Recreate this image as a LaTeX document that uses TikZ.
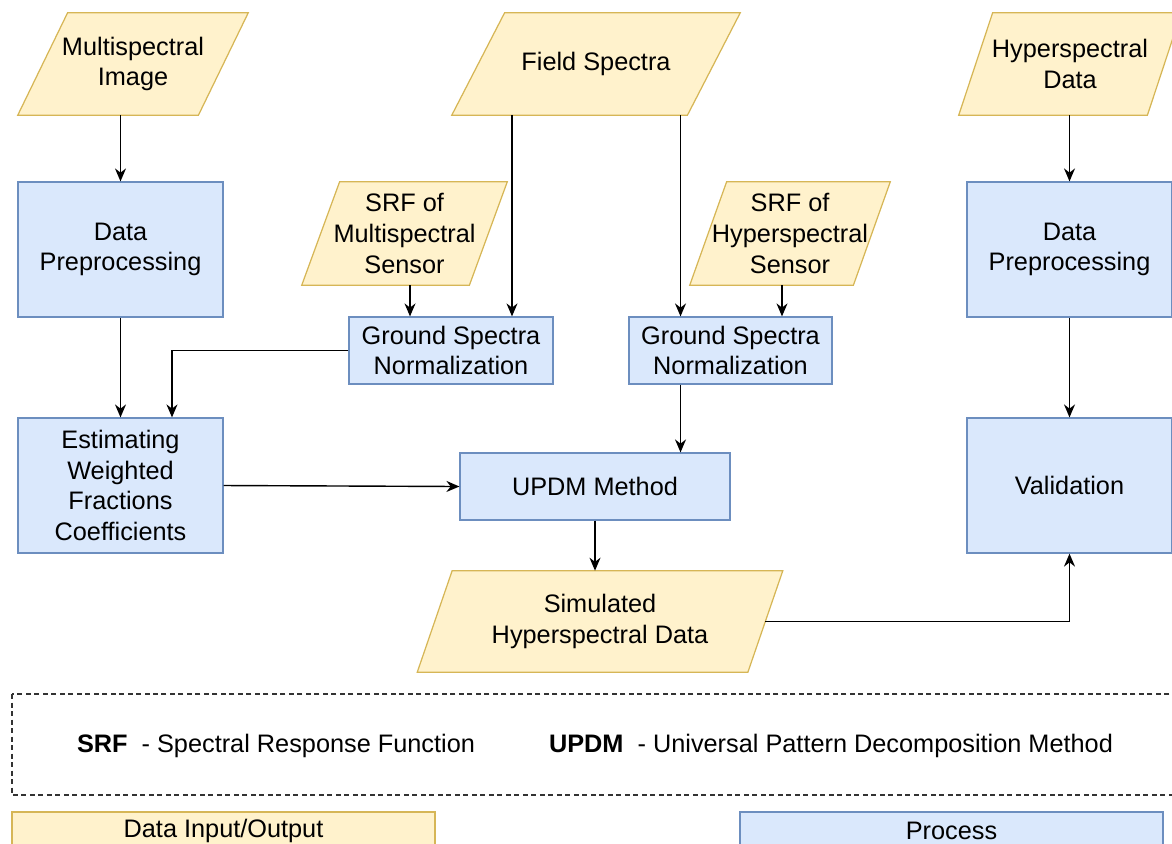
\documentclass[tikz,border=0pt]{standalone}
\usepackage{fontspec}
\setmainfont{Liberation Sans}
\usetikzlibrary{arrows.meta,backgrounds}
\definecolor{iofill}{HTML}{FFF2CC}
\definecolor{ioline}{HTML}{D6B656}
\definecolor{procfill}{HTML}{DAE8FC}
\definecolor{procline}{HTML}{6C8EBF}

\begin{document}
\begin{tikzpicture}[x=0.02cm, y=-0.02cm,
    font=\fontsize{14.4}{17.5}\selectfont,
    proc/.style={draw=procline, fill=procfill, line width=0.7pt, align=center,
                 inner sep=0pt, minimum width=4.1cm, minimum height=2.7cm},
    iotext/.style={align=center, inner sep=0pt, minimum height=2.04cm},
    iobox/.style={draw=ioline, fill=iofill, line width=0.7pt},
    arr/.style={-{Stealth[length=2.6mm,width=2.2mm]}, line width=0.8pt}]

    \useasboundingbox (0,0) rectangle (1172,843);
    \clip (0,0) rectangle (1172,843);

    % ===== 输入数据 (平行四边形) =====
    \node[iotext, minimum width=3.6cm] (mi) at (133,64) {Multispectral\\Image};
    \node[iotext, minimum width=4.7cm] (fs) at (596,64) {Field Spectra};
    \node[iotext, minimum width=3.76cm] (hd) at (1070,64) {Hyperspectral\\Data};
    \node[iotext, minimum width=3.34cm, minimum height=2.06cm] (srfm) at (404.5,233.5) {SRF of\\Multispectral\\Sensor};
    \node[iotext, minimum width=3.26cm, minimum height=2.06cm] (srfh) at (790,233.5) {SRF of\\Hyperspectral\\Sensor};
    \node[iotext, minimum width=6.6cm, minimum height=2.02cm] (sim) at (600,621.5) {Simulated\\Hyperspectral Data};

    % 平行四边形外框 (放在背景层)
    \begin{scope}[on background layer]
        \foreach \n/\s in {mi/50, fs/53, hd/34, srfm/38, srfh/37, sim/35} {
            \path[iobox] ([xshift=\s*0.01cm]\n.north west) -- ([xshift=\s*0.01cm]\n.north east)
                -- ([xshift=-\s*0.01cm]\n.south east) -- ([xshift=-\s*0.01cm]\n.south west) -- cycle;
        }
    \end{scope}

    % ===== 处理步骤 (矩形) =====
    \node[proc] (dpl) at (120.5,249.5) {Data\\Preprocessing};
    \node[proc] (dpr) at (1069.5,249.5) {Data\\Preprocessing};
    \node[proc, minimum width=4.08cm, minimum height=1.34cm] (gsnl) at (451,350.5) {Ground Spectra\\Normalization};
    \node[proc, minimum width=4.06cm, minimum height=1.34cm] (gsnr) at (730.5,350.5) {Ground Spectra\\Normalization};
    \node[proc] (ew) at (120.5,485.5) {Estimating\\Weighted\\Fractions\\Coefficients};
    \node[proc, minimum width=5.4cm, minimum height=1.34cm] (updm) at (595,486.5) {UPDM Method};
    \node[proc] (val) at (1069.5,485.5) {Validation};

    % ===== 连接箭头 =====
    \coordinate (sm) at ([xshift=-0.82cm]gsnl.north);
    \coordinate (fsa) at ([xshift=1.22cm]gsnl.north);
    \coordinate (fsb) at ([xshift=-1.0cm]gsnr.north);
    \coordinate (sh) at ([xshift=1.03cm]gsnr.north);
    \coordinate (ewin) at ([xshift=1.03cm]ew.north);

    \draw[arr] (mi.south -| dpl.north) -- (dpl.north);
    \draw[arr] (dpl.south) -- (ew.north);
    \draw[arr] (hd.south -| dpr.north) -- (dpr.north);
    \draw[arr] (dpr.south) -- (val.north);
    \draw[arr] (srfm.south -| sm) -- (sm);
    \draw[arr] (fs.south -| fsa) -- (fsa);
    \draw[arr] (fs.south -| fsb) -- (fsb);
    \draw[arr] (srfh.south -| sh) -- (sh);
    \draw[arr] (gsnl.west) -| (ewin);
    \draw[arr] (gsnr.south -| fsb) -- (updm.north -| fsb);
    \draw[arr] (ew.east) -- (updm.west);
    \draw[arr] (updm.south) -- (updm.south |- sim.north);
    \draw[arr] (sim.east) -| (val.south);

    % ===== 图例 =====
    \draw[dash pattern=on 1mm off 0.7mm, line width=0.6pt, black!80] (12,694) rectangle (1195,795);
    \node (srfkey) at (276,746) {\textbf{SRF}\ \ - Spectral Response Function};
    \node (updmkey) at (831,746) {\textbf{UPDM}\ \ - Universal Pattern Decomposition Method};
    \node[proc, minimum width=8.46cm, minimum height=0.76cm, fill=iofill, draw=ioline] (iokey) at (223.5,831) {Data Input/Output};
    \node[proc, minimum width=8.46cm, minimum height=0.76cm] (prockey) at (951.5,831) {Process};
\end{tikzpicture}
\end{document}
